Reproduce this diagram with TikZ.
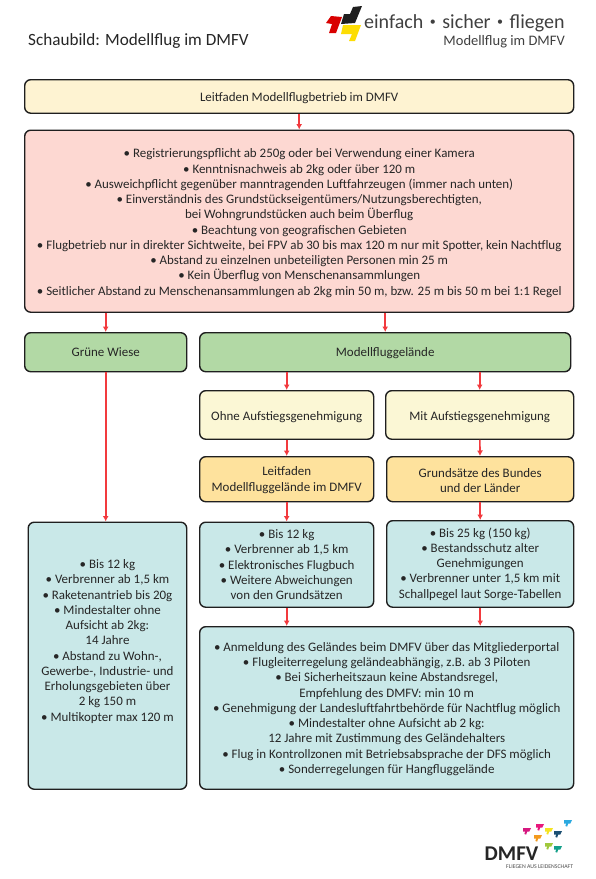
\documentclass[tikz,border=0pt]{standalone}
\usepackage{fontspec}
\setmainfont{Carlito}
\usetikzlibrary{arrows.meta}
\definecolor{txt}{HTML}{262626}
\definecolor{cream}{HTML}{FEF3D2}
\definecolor{rosa}{HTML}{FDD8D2}
\definecolor{gruen}{HTML}{B2D9A5}
\definecolor{hellgelb}{HTML}{FBF7D5}
\definecolor{orangeb}{HTML}{FEE29D}
\definecolor{tuerkis}{HTML}{C9E8E8}
\definecolor{pfeil}{HTML}{F23A3E}
\definecolor{la}{HTML}{D6187F}
\definecolor{lb}{HTML}{E8177C}
\definecolor{lc}{HTML}{F5E422}
\definecolor{ld}{HTML}{1B4F72}
\definecolor{le}{HTML}{2BA9E0}
\definecolor{lf}{HTML}{F39A1E}
\definecolor{lg}{HTML}{A0C83C}
\definecolor{lh}{HTML}{14A08A}
\tikzset{
 box/.style={draw=black!88,line width=1.4pt,rounded corners=6pt,text=txt,align=center,font=\fontsize{12.95}{15.25}\selectfont,inner sep=0pt},
 conn/.style={draw=pfeil,line width=1.6pt,-{Latex[length=5.5pt,width=6pt]}}
}
\newcommand{\bx}[7]{\node[box,fill=#2,minimum width=#5pt-#3pt,minimum height=#6pt-#4pt,anchor=north west] (#1) at (#3pt,-#4pt) {#7};}
\newcommand{\dn}[1]{\rule{0pt}{#1pt}}
\newcommand{\lgb}{\setbox0=\hbox{•}\makebox[\wd0]{\raisebox{2.9pt}{\fontsize{12}{12}\selectfont•}}}
\begin{document}
\begin{tikzpicture}[x=1pt,y=1pt]
\useasboundingbox (0,0) rectangle (595,-879);
\fill[white] (0,0) rectangle (595,-879);
\node[anchor=west,text=txt,font=\fontsize{17.15}{20}\selectfont,inner sep=0pt] (titel) at (28,-41) {Schaubild: Modellflug im DMFV};
% Logo oben
\fill[black!88] (344,-14) -- (350,-14) -- (353,-7) -- (362,-6) -- (355,-23) -- (341,-24) -- cycle;
\fill[red!85!black] (326,-23) -- (331,-16) -- (342,-17) -- (336,-33) -- (329,-33) -- (332,-24) -- cycle;
\fill[yellow!80!orange] (343,-25) -- (361,-25) -- (355,-41) -- (349,-41) -- (352,-34) -- (341,-34) -- cycle;
\node[anchor=west,text=black!75,font=\fontsize{20}{24}\selectfont,inner sep=0pt] (logoa) at (364,-23) {einfach \lgb{} sicher \lgb{} fliegen};
\node[anchor=east,text=black!75,font=\fontsize{14.5}{17}\selectfont,inner sep=0pt] (logob) at (565,-42) {Modellflug im DMFV};
% Boxen
\bx{lf}{cream}{24}{79}{573}{112.5}{\dn{13}Leitfaden Modellflugbetrieb im DMFV}
\bx{regeln}{rosa}{24}{129.5}{573}{311.5}{\dn{13}• Registrierungspflicht ab 250g oder bei Verwendung einer Kamera\\
• Kenntnisnachweis ab 2kg oder über 120 m\\
• Ausweichpflicht gegenüber manntragenden Luftfahrzeugen (immer nach unten)\\
• Einverständnis des Grundstückseigentümers/Nutzungsberechtigten,\\
bei Wohngrundstücken auch beim Überflug\\
• Beachtung von geografischen Gebieten\\
• Flugbetrieb nur in direkter Sichtweite, bei FPV ab 30 bis max 120 m nur mit Spotter, kein Nachtflug\\
• Abstand zu einzelnen unbeteiligten Personen min 25 m\\
• Kein Überflug von Menschenansammlungen\\
• Seitlicher Abstand zu Menschenansammlungen ab 2kg min 50 m, bzw. 25 m bis 50 m bei 1:1 Regel}
\bx{wiese}{gruen}{24}{332}{186}{371}{Grüne Wiese}
\bx{gelaende}{gruen}{199}{332}{570}{371}{\dn{11}Modellfluggelände}
\bx{ohne}{hellgelb}{199}{390}{373}{438.5}{\dn{13}Ohne Aufstiegsgenehmigung}
\bx{mit}{hellgelb}{385}{390}{573}{438.5}{\dn{13}Mit Aufstiegsgenehmigung}
\bx{lfg}{orangeb}{199}{456}{373}{501}{\dn{11}Leitfaden\\Modellfluggelände im DMFV}
\bx{gs}{orangeb}{386}{456}{573}{501}{\dn{11}Grundsätze des Bundes\\und der Länder}
\bx{cl}{tuerkis}{27.5}{521.5}{186}{788.5}{• Bis 12 kg\\
• Verbrenner ab 1,5 km\\
• Raketenantrieb bis 20g\\
• Mindestalter ohne\\Aufsicht ab 2kg:\\14 Jahre\\
• Abstand zu Wohn-,\\Gewerbe-, Industrie- und\\Erholungsgebieten über\\2 kg 150 m\\
• Multikopter max 120 m\\~\\~}
\bx{cm}{tuerkis}{199}{521.5}{373}{606.5}{• Bis 12 kg\\
• Verbrenner ab 1,5 km\\
• Elektronisches Flugbuch\\
• Weitere Abweichungen\\von den Grundsätzen}
\bx{cr}{tuerkis}{386}{520}{573}{606.5}{• Bis 25 kg (150 kg)\\
• Bestandsschutz alter\\Genehmigungen\\
• Verbrenner unter 1,5 km mit\\Schallpegel laut Sorge-Tabellen}
\bx{cb}{tuerkis}{199}{626}{573}{788.5}{\dn{11}• Anmeldung des Geländes beim DMFV über das Mitgliederportal\\
• Flugleiterregelung geländeabhängig, z.B. ab 3 Piloten\\
• Bei Sicherheitszaun keine Abstandsregel,\\Empfehlung des DMFV: min 10 m\\
• Genehmigung der Landesluftfahrtbehörde für Nachtflug möglich\\
• Mindestalter ohne Aufsicht ab 2 kg:\\12 Jahre mit Zustimmung des Geländehalters\\
• Flug in Kontrollzonen mit Betriebsabsprache der DFS möglich\\
• Sonderregelungen für Hangfluggelände}
% Verbinder
\draw[conn] (lf.south) -- (regeln.north);
\draw[conn] (regeln.south -| wiese.north) -- (wiese.north);
\draw[conn] (regeln.south -| gelaende.north) -- (gelaende.north);
\draw[conn] (wiese.south) -- (wiese.south |- cl.north);
\draw[conn] (gelaende.south -| ohne.north) -- (ohne.north);
\draw[conn] (gelaende.south -| mit.north) -- (mit.north);
\draw[conn] (ohne) -- (lfg);
\draw[conn] (mit) -- (gs);
\draw[conn] (lfg) -- (cm);
\draw[conn] (gs) -- (cr);
\draw[conn] (cm.south) -- (cm.south |- cb.north);
\draw[conn] (cr.south) -- (cr.south |- cb.north);
% Logo unten
\foreach \x/\y/\c in {523/828/la,536/824/lb,545/828/lc,554/831/ld,564/820/le,534/835/lf,545/843/lg,554/846/lh}{
 \fill[fill=\c] (\x,-\y) -- ++(8,0) -- ++(-1.8,-3.6) -- ++(-2,0) -- ++(-1,-3) -- ++(-1.8,0.6) -- ++(0.8,2.4) -- ++(-2.2,0) -- cycle;}
\node[anchor=west,text=black!85,font=\fontsize{21}{24}\selectfont\bfseries,inner sep=0pt] (dmfv) at (484.5,-853.5) {DMFV};
\node[anchor=west,text=black!70,font=\fontsize{5.8}{7}\selectfont,inner sep=0pt] (claim) at (506,-867) {FLIEGEN AUS LEIDENSCHAFT};
\end{tikzpicture}
\end{document}
